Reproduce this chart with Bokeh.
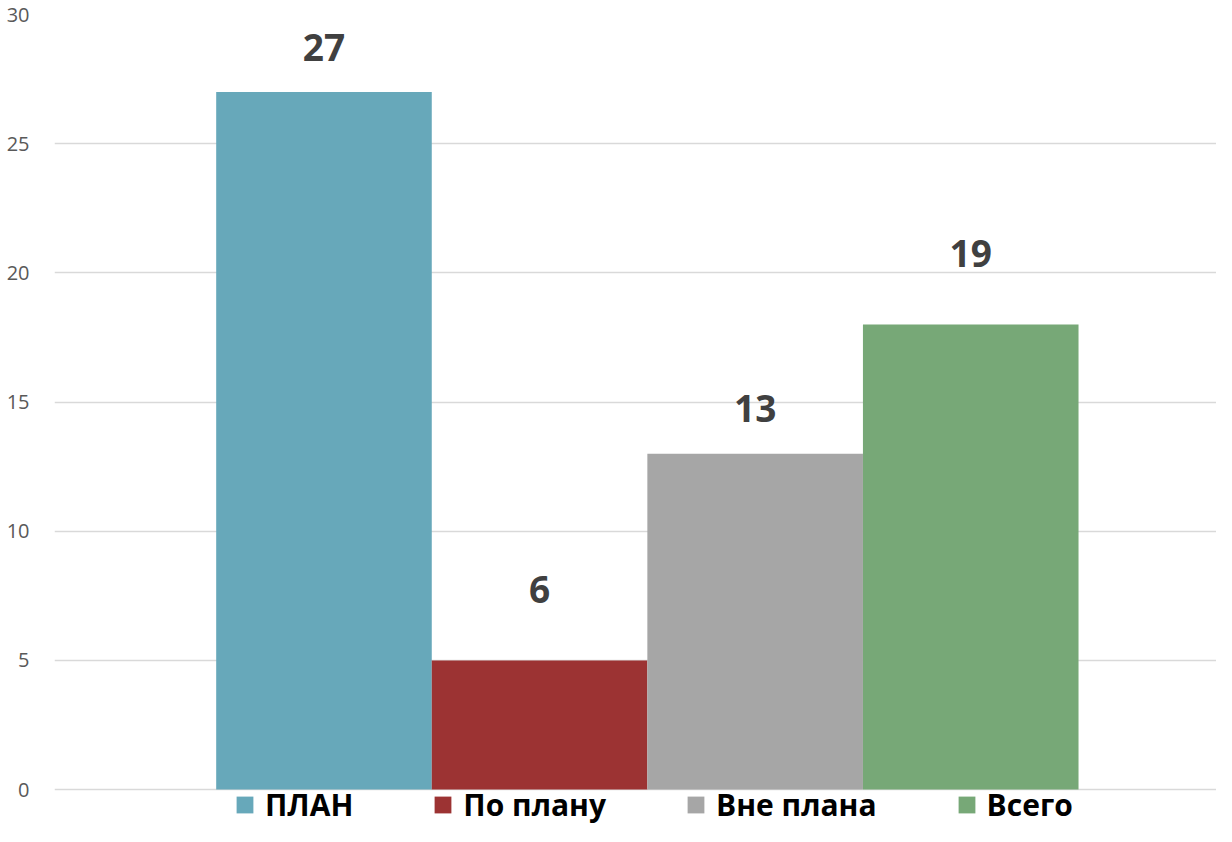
from bokeh.plotting import figure
from bokeh.models import Range1d, Legend, LegendItem, ColumnDataSource, FixedTicker
from bokeh.core.properties import value
from bokeh.embed import file_html
from bokeh.resources import INLINE

categories = ["ПЛАН", "По плану", "Вне плана", "Всего"]
bar_values = [27, 5, 13, 18]
label_values = ["27", "6", "13", "19"]
label_numbers = [27, 6, 13, 19]
colors = ["#67A8BA", "#9C3333", "#A6A6A6", "#77A877"]
y_ticks = [0, 5, 10, 15, 20, 25, 30]

xs = list(range(len(categories)))

p = figure(width=1216, height=826, output_backend="svg", toolbar_location=None,
           x_range=Range1d(-0.5 - 0.75, len(categories) - 0.5 + 0.64),
           y_range=Range1d(-1.43, 30),
           min_border_left=54, min_border_top=14, min_border_right=0, min_border_bottom=0)
p.outline_line_color = None
p.background_fill_color = "white"
p.border_fill_color = "white"

p.xaxis.visible = False
p.xgrid.visible = False
p.ygrid.ticker = FixedTicker(ticks=y_ticks)
p.ygrid.grid_line_color = "#D9D9D9"
p.ygrid.grid_line_width = 1.5

p.yaxis.ticker = FixedTicker(ticks=y_ticks)
p.yaxis.axis_line_color = None
p.yaxis.major_tick_line_color = None
p.yaxis.minor_tick_line_color = None
p.yaxis.major_label_text_font = "Open Sans"
p.yaxis.major_label_text_font_size = "20px"
p.yaxis.major_label_text_color = "#595959"
p.yaxis.major_label_standoff = 19

items = []
for i, (c, v, col) in enumerate(zip(categories, bar_values, colors)):
    src = ColumnDataSource(dict(x=[xs[i]], top=[v]))
    r = p.vbar(x="x", top="top", width=1.0, source=src, fill_color=col, line_color=None)
    items.append(LegendItem(label=c, renderers=[r]))

lsrc = ColumnDataSource(dict(x=xs, y=label_numbers, t=label_values))
p.text(x="x", y="y", text="t", source=lsrc, text_font=value("Open Sans"),
       text_font_size="37px", text_font_style="bold", text_color="#404040",
       text_align="center", text_baseline="middle", y_offset=-45)

legend = Legend(items=items, orientation="horizontal", location=(180, 1),
                label_text_font="Open Sans", label_text_font_size="30px",
                label_text_font_style="bold", label_text_color="#000000",
                glyph_width=21, glyph_height=21, label_standoff=10, spacing=79,
                padding=0, margin=0, border_line_color=None,
                background_fill_alpha=0)
p.add_layout(legend)

open("out.html", "w").write(file_html(p, INLINE))
